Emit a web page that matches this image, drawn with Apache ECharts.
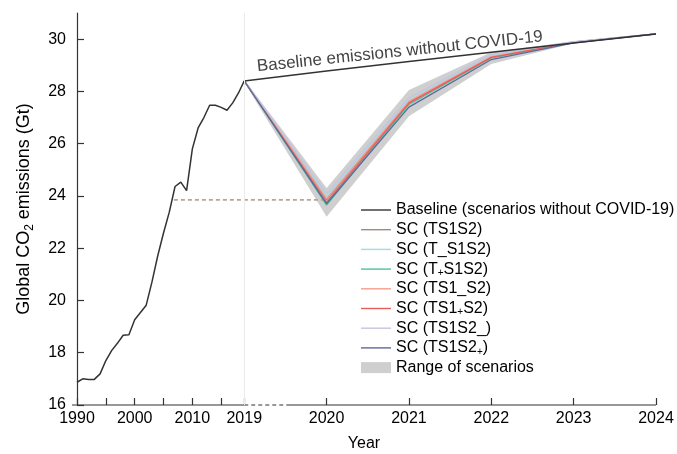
<!DOCTYPE html>
<html>
<head>
<meta charset="utf-8">
<script src="https://cdn.jsdelivr.net/npm/echarts@6/dist/echarts.min.js"></script>
<style>html,body{margin:0;padding:0;background:#fff}#c{width:677px;height:454px}</style>
</head>
<body>
<div id="c"></div>
<script>
// ---- data ----
const histYears = [1990,1991,1992,1993,1994,1995,1996,1997,1998,1999,2000,2001,2002,2003,2004,2005,2006,2007,2008,2009,2010,2011,2012,2013,2014,2015,2016,2017,2018,2019];
const histValues = [16.87,17.0,16.98,16.98,17.19,17.7,18.08,18.36,18.67,18.69,19.26,19.54,19.82,20.71,21.71,22.58,23.38,24.36,24.53,24.2,25.8,26.6,27.0,27.47,27.47,27.39,27.28,27.56,27.94,28.4];
const scenYears = [2019,2020,2021,2022,2023,2024];
const baselineValues = [28.4,28.78,29.14,29.5,29.85,30.2];
const scenNames = ['SC (TS1S2)','SC (T_S1S2)','SC (T+S1S2)','SC (TS1_S2)','SC (TS1+S2)','SC (TS1S2_)','SC (TS1S2+)'];
const sc_TS1S2   = [28.4,23.85,27.6,29.3,29.88,30.2];
const sc_TmS1S2  = [28.4,24.0,27.72,29.38,29.89,30.2];
const sc_TpS1S2  = [28.4,23.65,27.5,29.28,29.87,30.2];
const sc_TS1mS2  = [28.4,23.9,27.62,29.33,29.88,30.2];
const sc_TS1pS2  = [28.4,23.75,27.55,29.3,29.88,30.2];
const sc_TS1S2m  = [28.4,24.1,27.76,29.42,29.9,30.2];
const sc_TS1S2p  = [28.4,23.7,27.4,29.22,29.86,30.2];
const rangeLow  = [28.35,23.2,27.05,29.05,29.84,30.2];
const rangeHigh = [28.45,24.3,28.05,29.5,29.92,30.2];
const dashYears = [2006.8,2020];
const dashValue = 23.85;
const tickYears = [1990,1995,2000,2005,2010,2015,2019,2020,2021,2022,2023,2024];
const labelYears = [1990,2000,2010,2019,2020,2021,2022,2023,2024];
const yTicks = [16,18,20,22,24,26,28,30];
const baselineText = 'Baseline emissions without COVID-19';
const baselineTextAt = [2020.89, 29.52];

// ---- piecewise x scale (compressed before 2019) ----
const K1 = 5.77, K2 = 82.4;
function tx(y){ return y <= 2019 ? (y-1990)*K1 : 29*K1 + (y-2019)*K2; }
function inv(v){ return v <= 29*K1 + 1e-6 ? 1990 + v/K1 : 2019 + (v-29*K1)/K2; }

const FF = 'Liberation Sans, Arial, Helvetica, sans-serif';
const scenColors = ['#a08c80','#a6d8e6','#4cc4a0','#f79c8c','#e85c5c','#c5c5dd','#5c6a9c'];
const scenData = [sc_TS1S2,sc_TmS1S2,sc_TpS1S2,sc_TS1mS2,sc_TS1pS2,sc_TS1S2m,sc_TS1S2p];
const pairs = (xs, vs) => xs.map((y,i)=>[tx(y), vs[i]]);

const series = [];
series.push({
  name:'Range of scenarios', type:'custom', silent:true, z:1,
  color:'#cfcfcf', itemStyle:{color:'#cfcfcf'},
  data: scenYears.map((y,i)=>[tx(y), rangeLow[i], rangeHigh[i]]),
  renderItem: function(params, api){
    if (params.dataIndex !== 0) return null;
    const up = [], lo = [];
    scenYears.forEach((y,i)=>{
      up.push(api.coord([tx(y), rangeHigh[i]]));
      lo.push(api.coord([tx(y), rangeLow[i]]));
    });
    return {type:'polygon', shape:{points: up.concat(lo.reverse())}, style:{fill:'#cfcfcf'}};
  },
  markLine:{silent:true, symbol:['none','none'], label:{show:false},
    lineStyle:{color:'#ebebeb', width:1, type:'solid'},
    data:[{xAxis:tx(2019)},{xAxis:tx(2024)}]}
});
series.push({
  name:'Historical', type:'line', symbol:'none', silent:true, z:3,
  data: pairs(histYears, histValues), lineStyle:{color:'#333', width:1.5}
});
series.push({
  name:'dash', type:'line', symbol:'none', silent:true, z:2,
  data: dashYears.map(y=>[tx(y), dashValue]),
  lineStyle:{color:'#b8a595', width:1.6, type:[4,3]}
});
series.push({
  name:'Baseline (scenarios without COVID-19)', type:'line', symbol:'none', silent:true, z:3,
  color:'#333', data: pairs(scenYears, baselineValues), lineStyle:{color:'#333', width:1.5},
  markPoint:{silent:true, symbol:'circle', symbolSize:0,
    data:[{coord:[tx(baselineTextAt[0]), baselineTextAt[1]]}],
    label:{show:true, position:'inside', formatter: baselineText, rotate:6,
      fontSize:17, color:'#444', fontFamily:FF}}
});
scenNames.forEach((n,i)=>{
  series.push({
    name:n, type:'line', symbol:'none', silent:true, z:2, color:scenColors[i],
    data: pairs(scenYears, scenData[i]), lineStyle:{color:scenColors[i], width:1.3}
  });
});
// x axis line: solid / dashed break / solid
const axisSeg = (a,b,dash)=>({
  type:'line', symbol:'none', silent:true, clip:false, z:4,
  data:[[a,16],[b,16]], lineStyle:{color:'#333', width:1.2, type: dash ? [4,3] : 'solid'}
});
series.push(axisSeg(tx(1989.13), tx(2019), false));
series.push(axisSeg(tx(2019), tx(2019.52), true));
series.push(axisSeg(tx(2019.52), tx(2024), false));

const lineIcon = 'path://M0,0 M30,11 M0,4.8 L30,4.8 L30,6.2 L0,6.2 Z';
const legendNames = ['Baseline (scenarios without COVID-19)'].concat(scenNames);
const legendData = legendNames.map(n=>({name:n, icon:lineIcon})).concat([{name:'Range of scenarios', icon:'rect'}]);

const chart = echarts.init(document.getElementById('c'), null, {renderer:'canvas'});
chart.setOption({
  animation:false,
  backgroundColor:'#fff',
  grid:{left:72, right:21, top:13, bottom:49, containLabel:false, outerBoundsMode:'none'},
  legend:{
    data: legendData, orient:'vertical', left:361, top:201, padding:0,
    itemWidth:30, itemHeight:11, itemGap:1.7, selectedMode:false,
    textStyle:{fontSize:16, lineHeight:18, color:'#000', fontFamily:FF,
      rich:{s:{fontSize:10, lineHeight:10, padding:[8,0,0,0], color:'#000', fontFamily:FF}}},
    formatter: n => n.replace('+','{s|+}')
  },
  xAxis:{
    type:'value', min:tx(1989.13), max:tx(2024),
    axisLine:{show:false},
    splitLine:{show:false},
    axisTick:{show:true, inside:true, length:7, customValues: tickYears.map(tx), lineStyle:{color:'#333', width:1.2}},
    axisLabel:{customValues: labelYears.map(tx), formatter: v => String(Math.round(inv(v))),
      margin:6, fontSize:16, color:'#000', fontFamily:FF},
    name:'Year', nameLocation:'middle', nameGap:31,
    nameTextStyle:{fontSize:16, color:'#000', fontFamily:FF}
  },
  yAxis:{
    type:'value', min:16, max:31,
    axisLine:{show:true, lineStyle:{color:'#333', width:1.2}},
    splitLine:{show:false},
    axisTick:{show:true, inside:true, length:7, customValues:yTicks, lineStyle:{color:'#333', width:1.2}},
    axisLabel:{customValues:yTicks, margin:6, fontSize:16, color:'#000', fontFamily:FF},
    name:'Global CO{sub|2} emissions (Gt)', nameLocation:'middle', nameGap:39,
    nameTextStyle:{fontSize:18, color:'#000', fontFamily:FF,
      rich:{sub:{fontSize:12, lineHeight:12, padding:[11,0,0,0], color:'#000', fontFamily:FF}}}
  },
  series: series
});
</script>
</body>
</html>
